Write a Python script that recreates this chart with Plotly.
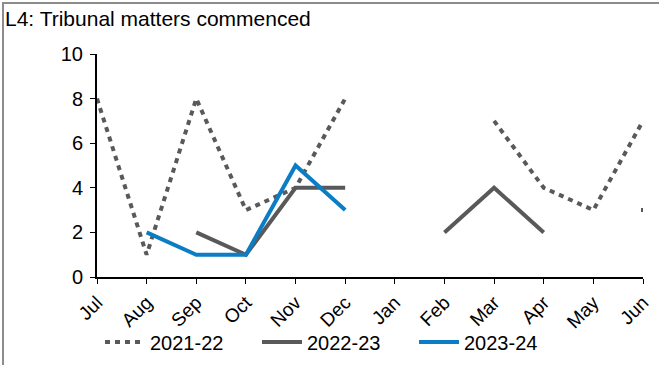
import plotly.graph_objects as go

months = ["Jul", "Aug", "Sep", "Oct", "Nov", "Dec", "Jan", "Feb", "Mar", "Apr", "May", "Jun"]
s2021_22 = [8, 1, 8, 3, 4, 8, None, None, 7, 4, 3, 7]
s2022_23 = [None, None, 2, 1, 4, 4, None, 2, 4, 2, None, 3]
s2023_24 = [None, 2, 1, 1, 5, 3, None, None, None, None, None, None]
y_ticks = [0, 2, 4, 6, 8, 10]

GRAY = "#58595B"
BLUE = "#0A7DC4"
FONT = "Liberation Sans, Arial, sans-serif"

fig = go.Figure()
fig.add_trace(go.Scatter(x=months, y=s2021_22, mode="lines", name="2021-22",
                         line=dict(color=GRAY, width=4, dash="5px,5px")))
fig.add_trace(go.Scatter(x=months, y=s2022_23, mode="lines", name="2022-23",
                         line=dict(color=GRAY, width=4)))
# isolated point (no neighbours) of 2022-23
iso_x = [m for i, m in enumerate(months)
         if s2022_23[i] is not None
         and (i == 0 or s2022_23[i - 1] is None)
         and (i == len(months) - 1 or s2022_23[i + 1] is None)]
iso_y = [s2022_23[months.index(m)] for m in iso_x]
fig.add_trace(go.Scatter(x=iso_x, y=iso_y, mode="markers", showlegend=False,
                         marker=dict(symbol="square", size=4, color=GRAY)))
fig.add_trace(go.Scatter(x=months, y=s2023_24, mode="lines", name="2023-24",
                         line=dict(color=BLUE, width=4)))

L, R, T, B = 97, 16, 54, 88
W, H = 659, 365
pw = W - L - R
ph = H - T - B

def px2x(px):
    return (px - L) / pw

def py2y(py):
    return (H - B - py) / ph

fig.add_shape(type="rect", xref="paper", yref="paper",
              x0=px2x(3), x1=px2x(W + 10), y0=py2y(H + 10), y1=py2y(3),
              line=dict(color="#8C8C8C", width=2), fillcolor="rgba(0,0,0,0)")

fig.update_layout(
    width=W, height=H,
    margin=dict(l=L, r=R, t=T, b=B, autoexpand=False),
    paper_bgcolor="white", plot_bgcolor="white",
    font=dict(family=FONT, size=20, color="black"),
    title=dict(text="L4: Tribunal matters commenced", x=5 / W, xanchor="left",
               xref="container", y=1 - 19 / H, yanchor="middle", yref="container",
               font=dict(family=FONT, size=21, color="black")),
    showlegend=True,
    legend=dict(orientation="h", x=100 / W, xanchor="left", xref="container",
                y=(H - 342) / H, yanchor="middle", yref="container",
                font=dict(family=FONT, size=20, color="black"),
                bgcolor="rgba(0,0,0,0)", itemwidth=40, tracegroupgap=0,
                entrywidth=102, entrywidthmode="pixels"),
    xaxis=dict(type="category", categoryorder="array", categoryarray=months,
               range=[0, len(months) - 1], showgrid=False, zeroline=False,
               showline=True, linecolor="black", linewidth=2, automargin=False,
               ticks="outside", ticklen=5, tickcolor="black", tickwidth=1,
               tickangle=-45, tickfont=dict(family=FONT, size=19, color="black")),
    yaxis=dict(range=[0, 10], tickvals=y_ticks, showgrid=False, zeroline=False,
               showline=True, linecolor="black", linewidth=2, automargin=False,
               ticks="outside", ticklen=5, tickcolor="black", tickwidth=1,
               ticklabelstandoff=3,
               tickfont=dict(family=FONT, size=20, color="black")),
)

fig.write_html("out.html",
               config={"displayModeBar": False},
               post_script="document.body.style.margin='0';"
                           "document.body.style.overflow='hidden';")
